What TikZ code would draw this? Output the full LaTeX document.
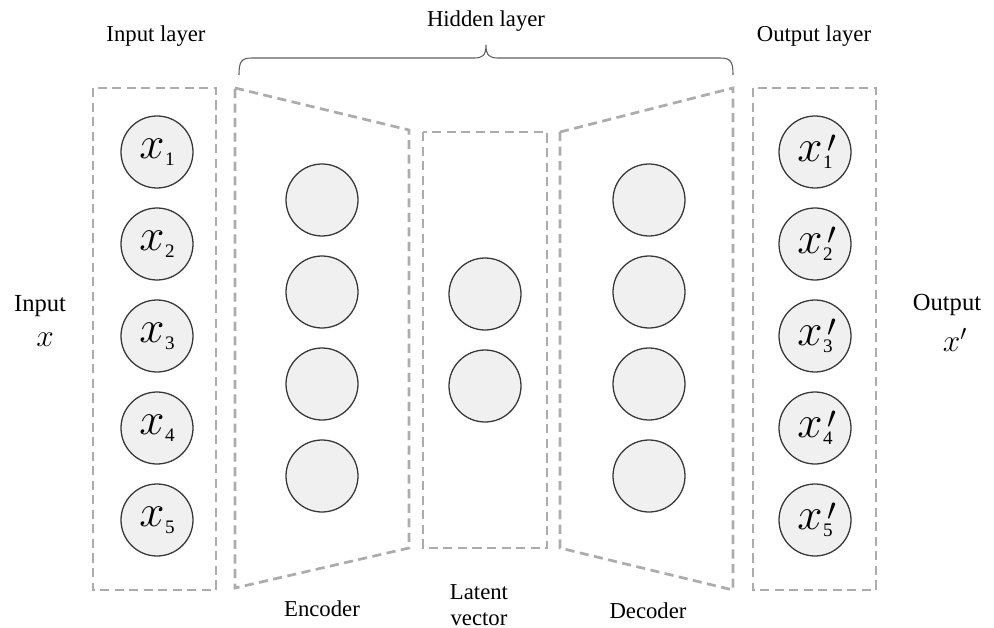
\documentclass[tikz,border=0pt]{standalone}
\usepackage{fontspec}
\setmainfont{Liberation Serif}

\definecolor{boxgray}{RGB}{172,172,172}
\definecolor{circline}{RGB}{55,55,55}
\definecolor{circfill}{RGB}{240,240,240}
\definecolor{bracegray}{RGB}{95,95,95}

% input variable: x with a small lowered index
\newcommand\invar[1]{{\fontsize{26}{26}\selectfont$x$}\kern0.4pt\raisebox{-4pt}{\fontsize{10.5}{10.5}\selectfont#1}}
% reconstructed variable: x with prime and index
\newcommand\outvar[1]{{\fontsize{26}{26}\selectfont$x$}\kern0.4pt\rlap{\kern2.5pt\raisebox{5pt}{\fontsize{18}{18}\selectfont$\prime$}}\raisebox{-4pt}{\fontsize{10.5}{10.5}\selectfont#1}}

\tikzset{
  dashbox/.style={draw=boxgray, line width=1.5pt, dash pattern=on 5pt off 3pt, line join=miter},
  neuron/.style={circle, draw=circline, fill=circfill, line width=0.7pt,
                 minimum size=39.6pt, inner sep=0pt},
  lbl/.style={font=\fontsize{12.5}{15}\selectfont, align=center, inner sep=0pt},
  sidelbl/.style={font=\fontsize{13.5}{16}\selectfont, inner sep=0pt},
  brace/.style={draw=bracegray, line width=0.6pt}
}

\begin{document}
\begin{tikzpicture}[x=0.55pt, y=-0.55pt]
\useasboundingbox (0,0) rectangle (994,628);

% layer frames
\draw[dashbox] (93,88) rectangle (216,590);                  % input layer
\draw[dashbox] (235,88) -- (409,130) -- (409,548) -- (235,588) -- cycle; % encoder
\draw[dashbox] (423,132) rectangle (547,548);                % latent vector
\draw[dashbox] (560,132) -- (733,88) -- (733,590) -- (560,548) -- cycle; % decoder
\draw[dashbox] (753,88) rectangle (876,590);                 % output layer

% input units
\foreach \i/\y in {1/152, 2/244, 3/336, 4/428, 5/520}
  \node[neuron] (in\i) at (157,\y) {\invar{\i}};

% encoder units
\foreach \i/\y in {1/200, 2/292, 3/384, 4/476}
  \node[neuron] (enc\i) at (322,\y) {};

% latent units
\foreach \i/\y in {1/294, 2/386}
  \node[neuron] (lat\i) at (485,\y) {};

% decoder units
\foreach \i/\y in {1/200, 2/292, 3/384, 4/476}
  \node[neuron] (dec\i) at (649,\y) {};

% output units
\foreach \i/\y in {1/152, 2/244, 3/336, 4/428, 5/520}
  \node[neuron] (out\i) at (815,\y) {\outvar{\i}};

% brace over the hidden layer
\coordinate (bl) at (239,75);
\coordinate (br) at (733,75);
\coordinate (btip) at (486,45);
\draw[brace] (bl) .. controls (239,62) and (241,58) .. (252,58) -- (474,58)
  .. controls (482,58) and (486,56) .. (btip)
  .. controls (486,56) and (490,58) .. (498,58) -- (720,58)
  .. controls (731,58) and (733,62) .. (br);

% headings
\node[lbl] (tin)  at (156,36) {Input layer};
\node[lbl] (thid) at (486,21) {Hidden layer};
\node[lbl] (tout) at (814,36) {Output layer};

% side labels
\node[sidelbl] (sin)  at (40,306) {Input};
\node[sidelbl] (sinx) at (45,340) {\fontsize{17}{17}\selectfont$x$};
\node[sidelbl] (sout) at (947,305) {Output};
\node[sidelbl] (soutx) at (955,340) {\fontsize{17}{17}\selectfont$x'$};

% bottom labels
\node[lbl] (tenc) at (322,609) {Encoder};
\node[lbl] (tlat) at (479,605) {Latent\\[-1pt]vector};
\node[lbl] (tdec) at (648,611) {Decoder};
\end{tikzpicture}
\end{document}
